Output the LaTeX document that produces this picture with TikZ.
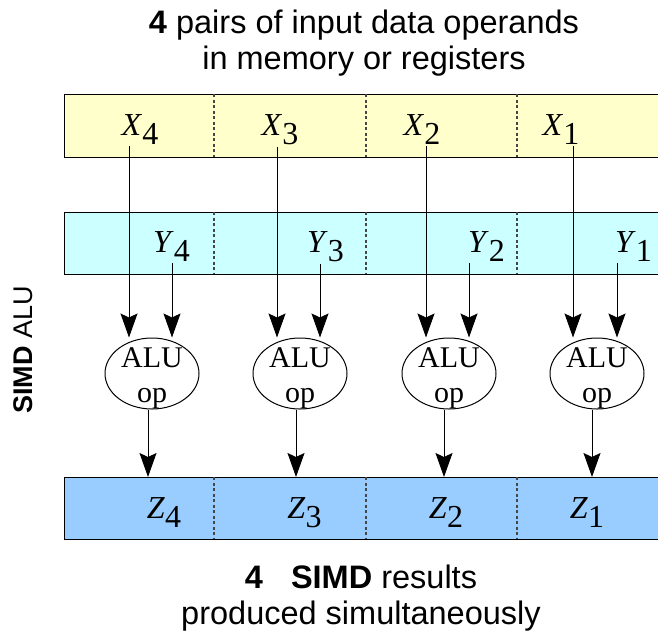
\documentclass[tikz,border=0pt]{standalone}
\usepackage{fontspec}
\setmainfont{Liberation Serif}
\setsansfont{Liberation Sans}
\usetikzlibrary{arrows.meta, shapes.geometric, positioning}

\definecolor{regX}{RGB}{255,255,204}
\definecolor{regY}{RGB}{204,255,255}
\definecolor{regZ}{RGB}{153,204,255}
\definecolor{divgray}{RGB}{70,70,70}

\newcommand{\regname}[2]{\textit{#1}\raisebox{-9pt}{#2}}

\tikzset{
  regrow/.style={draw=black, line width=1pt, rectangle, anchor=north west, minimum width=610, minimum height=63, inner sep=0pt},
  regdiv/.style={draw=divgray, line width=1.2pt, dash pattern=on 3pt off 2.5pt},
  reglabel/.style={font=\fontsize{32}{36}\selectfont, inner sep=2pt, anchor=base},
  aluop/.style={draw=black, line width=1pt, ellipse, minimum width=94, minimum height=71, inner sep=0pt},
  alutext/.style={font=\fontsize{30}{35}\selectfont, align=center, inner sep=0pt},
  flow/.style={draw=black, line width=1pt, -{Stealth[length=24pt, width=17pt, inset=4pt]}},
  note/.style={font=\sffamily\fontsize{32.5}{36}\selectfont, align=center}
}

\begin{document}
\begin{tikzpicture}[x=1pt, y=-1pt]
\useasboundingbox (0,0) rectangle (658,633);
\clip (0,0) rectangle (658,633);

\node[note] (inputs) at (364,43) {\textbf{4} pairs of input data operands\\in memory or registers};
\node[note, rotate=90, font=\sffamily\fontsize{27}{32}\selectfont] (simd) at (23,350) {\textbf{SIMD} ALU};

% register rows
\node[regrow, fill=regX] (Xrow) at (64,94) {};
\node[regrow, fill=regY, minimum height=62] (Yrow) at (64,212) {};
\node[regrow, fill=regZ, minimum height=62] (Zrow) at (64,477) {};

\draw[regdiv] (214,94) -- (214,157);
\draw[regdiv] (366,94) -- (366,157);
\draw[regdiv] (517,94) -- (517,157);
\draw[regdiv] (214,212) -- (214,274);
\draw[regdiv] (366,212) -- (366,274);
\draw[regdiv] (517,212) -- (517,274);
\draw[regdiv] (214,477) -- (214,539);
\draw[regdiv] (366,477) -- (366,539);
\draw[regdiv] (517,477) -- (517,539);

\node[reglabel] (X4) at (140,135) {\regname{X}{4}};
\node[reglabel] (X3) at (280,135) {\regname{X}{3}};
\node[reglabel] (X2) at (422,135) {\regname{X}{2}};
\node[reglabel] (X1) at (561,135) {\regname{X}{1}};

\node[reglabel] (Y4) at (171.5,252) {\regname{Y}{4}};
\node[reglabel] (Y3) at (325.5,252) {\regname{Y}{3}};
\node[reglabel] (Y2) at (486.5,252) {\regname{Y}{2}};
\node[reglabel] (Y1) at (633.5,252) {\regname{Y}{1}};

\node[reglabel] (Z4) at (164,518) {\regname{Z}{4}};
\node[reglabel] (Z3) at (304.5,518) {\regname{Z}{3}};
\node[reglabel] (Z2) at (446,518) {\regname{Z}{2}};
\node[reglabel] (Z1) at (587,518) {\regname{Z}{1}};

% ALU operations
\node[aluop] (A4) at (152,373.5) {};
\node[aluop] (A3) at (300,373.5) {};
\node[aluop] (A2) at (449,373.5) {};
\node[aluop] (A1) at (597,373.5) {};
\node[alutext] (T4) at (152,378) {ALU\\op};
\node[alutext] (T3) at (300,378) {ALU\\op};
\node[alutext] (T2) at (449,378) {ALU\\op};
\node[alutext] (T1) at (597,378) {ALU\\op};

\draw[flow] (X4.south -| 129,0) -- (A4.north -| 129,0);
\draw[flow] (X3.south -| 277,0) -- (A3.north -| 277,0);
\draw[flow] (X2.south -| 426,0) -- (A2.north -| 426,0);
\draw[flow] (X1.south -| 573,0) -- (A1.north -| 573,0);

\draw[flow] (Y4.south -| 172,0) -- (A4.north -| 172,0);
\draw[flow] (Y3.south -| 320,0) -- (A3.north -| 320,0);
\draw[flow] (Y2.south -| 469,0) -- (A2.north -| 469,0);
\draw[flow] (Y1.south -| 617,0) -- (A1.north -| 617,0);

\draw[flow] (A4.south -| 148,0) -- (Zrow.north -| 148,0);
\draw[flow] (A3.south -| 296,0) -- (Zrow.north -| 296,0);
\draw[flow] (A2.south -| 444,0) -- (Zrow.north -| 444,0);
\draw[flow] (A1.south -| 592,0) -- (Zrow.north -| 592,0);

\node[note] (results) at (361,598) {\textbf{4}\hspace{28pt}\textbf{SIMD} results\\produced simultaneously};

\end{tikzpicture}
\end{document}
